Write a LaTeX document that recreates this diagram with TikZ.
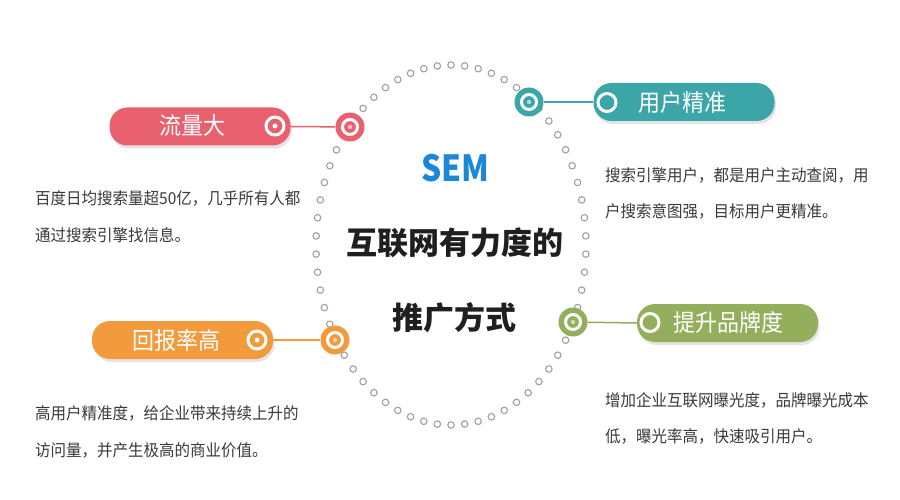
\documentclass[tikz,border=0pt]{standalone}
\usepackage{fontspec}
\newfontfamily\cjk{Noto Sans CJK SC}
\usetikzlibrary{shadows}
\definecolor{cpink}{HTML}{E9606F}
\definecolor{cteal}{HTML}{3BA5A8}
\definecolor{corange}{HTML}{F29A3C}
\definecolor{cgreen}{HTML}{94AF5C}
\definecolor{cblue}{HTML}{1A87D8}
\definecolor{ctext}{HTML}{3A3A3A}
\definecolor{cdot}{HTML}{A0A0A0}
\tikzset{
  dotring/.style={circle, draw=cdot, line width=1.1pt, fill=white, minimum size=6.5pt, inner sep=0pt},
  pill/.style={rectangle, rounded corners=18pt, minimum width=181pt, minimum height=38pt, inner sep=0pt,
    drop shadow={opacity=0.22, shadow xshift=1.5pt, shadow yshift=-3pt}},
  hub/.style={circle, minimum size=29pt, inner sep=0pt},
  pilltext/.style={text=white, font=\cjk\fontsize{22}{22}\selectfont, inner sep=0pt, yscale=1.08},
  desc/.style={text=ctext, font=\cjk\fontsize{15.5}{15.5}\selectfont, anchor=west, inner sep=0pt, yscale=1.06},
  link/.style={line width=1.5pt},
  icon/.style={circle, draw=white, line width=3pt, minimum size=18pt, inner sep=0pt},
  titletext/.style={text=black!88, font=\cjk\bfseries\fontsize{31}{31}\selectfont, inner sep=0pt},
}
\newcommand{\hubrings}[2]{%
  \draw[white, line width=3pt] (#1.center) circle (7.5pt);
  \fill[white!60!#2] (#1.center) circle (2.2pt);
}
\begin{document}
\begin{tikzpicture}[x=1pt,y=-1pt]
\useasboundingbox (0,0) rectangle (900,500);
\fill[white] (0,0) rectangle (900,500);

% dotted ellipse
\foreach \i in {0,...,61}{
  \pgfmathsetmacro{\ang}{90+\i*5.80645}
  \node[dotring] (d\i) at ({451+135*cos(\ang)}, {245-180*sin(\ang)}) {};
}

% pills
\node[pill, fill=cpink]   (p1) at (200,126.5) {};
\node[pill, fill=cteal]   (p2) at (684,102) {};
\node[pill, fill=corange] (p3) at (182.5,340) {};
\node[pill, fill=cgreen]  (p4) at (727.5,323) {};

% hubs on the ellipse
\node[hub, fill=cpink]   (h1) at (350,127) {};
\node[hub, fill=cteal]   (h2) at (529,102) {};
\node[hub, fill=corange] (h3) at (335,340) {};
\node[hub, fill=cgreen]  (h4) at (573,322) {};
\hubrings{h1}{cpink}
\hubrings{h2}{cteal}
\hubrings{h3}{corange}
\hubrings{h4}{cgreen}

% connectors
\draw[link, cpink]   (p1.east) -- (h1);
\draw[link, cteal]   (h2) -- (p2.west);
\draw[link, corange] (p3.east) -- (h3);
\draw[link, cgreen]  (h4) -- (p4.west);

% pill icons
\node[icon] (i1) at (275,126) {};
\node[icon] (i2) at (607,102.5) {};
\node[icon] (i3) at (257,340) {};
\node[icon] (i4) at (650,322.5) {};
\fill[white] (i1.center) circle (2.5pt);
\fill[white] (i3.center) circle (2.5pt);

% pill labels
\node[pilltext] (l1) at (192,125) {流量大};
\node[pilltext] (l2) at (682,102) {用户精准};
\node[pilltext] (l3) at (176,340) {回报率高};
\node[pilltext] (l4) at (728,322) {提升品牌度};

% centre titles
\node[text=cblue, font=\cjk\bfseries\fontsize{36}{36}\selectfont, inner sep=0pt, xscale=0.88] (sem) at (455,168) {SEM};
\node[titletext] (t1) at (455,243) {互联网有力度的};
\node[titletext] (t2) at (454,318) {推广方式};

% descriptions
\node[desc] (a1) at (35,198) {百度日均搜索量超50亿，几乎所有人都};
\node[desc] (a2) at (35,235) {通过搜索引擎找信息。};
\node[desc] (b1) at (605,175) {搜索引擎用户，都是用户主动查阅，用};
\node[desc] (b2) at (605,211) {户搜索意图强，目标用户更精准。};
\node[desc] (c1) at (35,413) {高用户精准度，给企业带来持续上升的};
\node[desc] (c2) at (35,450) {访问量，并产生极高的商业价值。};
\node[desc] (e1) at (605,400) {增加企业互联网曝光度，品牌曝光成本};
\node[desc] (e2) at (605,436) {低，曝光率高，快速吸引用户。};
\end{tikzpicture}
\end{document}
